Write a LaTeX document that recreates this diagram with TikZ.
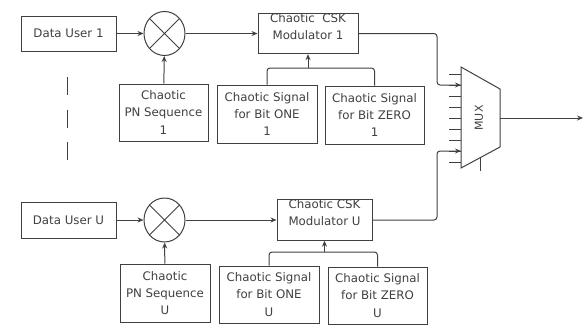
\documentclass[tikz,border=0pt]{standalone}
\usepackage{fontspec}
\setmainfont{DejaVu Sans}
\usetikzlibrary{arrows.meta,shapes.geometric,calc}
\begin{document}
\begin{tikzpicture}[x=1pt,y=-1pt,color=black!75,line width=1pt,
  box/.style={draw,align=center,inner sep=0pt,font=\fontsize{11.8}{17.2}\selectfont},
  mixer/.style={draw,ellipse,inner sep=0pt,minimum width=41pt,minimum height=44pt},
  arr/.style={-{Stealth[length=6pt,width=5pt]}},
  link/.style={rounded corners=3pt}]
\useasboundingbox (0,0) rectangle (583,327);
% ---------- user 1 ----------
\node[box,minimum width=95pt,minimum height=35pt] (du1) at (68.5,33.5) {Data User 1};
\node[mixer] (mix1) at (164.5,33.5) {};
\draw (mix1.45) -- (mix1.225) (mix1.135) -- (mix1.315);
\node[box,minimum width=89pt,minimum height=57pt] (pn1) at (163.5,112.5) {Chaotic\\PN Sequence\\1};
\node[box,minimum width=100pt,minimum height=35pt] (mod1) at (308,33.5) {Chaotic\ \ CSK\\Modulator 1\\[-3pt]};
\node[box,minimum width=100pt,minimum height=58pt] (one1) at (267,114) {Chaotic Signal\\for Bit ONE\\1};
\node[box,minimum width=99pt,minimum height=58pt] (zero1) at (374.5,115) {Chaotic Signal\\for Bit ZERO\\1};
\coordinate (j1) at (308,68);
% ---------- user U ----------
\node[box,minimum width=95pt,minimum height=36pt] (duU) at (68.5,220) {Data User U};
\node[mixer] (mixU) at (164.5,220) {};
\draw (mixU.45) -- (mixU.225) (mixU.135) -- (mixU.315);
\node[box,minimum width=90pt,minimum height=58pt] (pnU) at (165,293) {Chaotic\\PN Sequence\\U};
\node[box,minimum width=95pt,minimum height=36pt] (modU) at (324.5,220) {Chaotic CSK\\Modulator U\\[-3pt]};
\node[box,minimum width=100pt,minimum height=57pt] (oneU) at (269,294.5) {Chaotic Signal\\for Bit ONE\\U};
\node[box,minimum width=99pt,minimum height=57pt] (zeroU) at (377.5,295.5) {Chaotic Signal\\for Bit ZERO\\U};
\coordinate (jU) at (324.5,252);
% ---------- MUX ----------
\draw (461,67) -- (500,89) -- (500,147) -- (461,168) -- cycle;
\node[font=\fontsize{11}{13}\selectfont,rotate=90] (mux) at (479,118) {MUX};
\foreach \yy in {74,85,...,162} \draw (449,\yy) -- (461,\yy);
\draw (480,158) -- (480,171);
\coordinate (muxin1) at (461,85);
\coordinate (muxinU) at (461,151);
\coordinate (bend1) at (437,85);
\coordinate (bendU) at (437,151);
\coordinate (muxout) at (500,118);
\coordinate (outend) at (583,118);
% ---------- dashed separator ----------
\draw[dash pattern=on 18pt off 14.5pt] (67,77) -- (67,161);
% ---------- connectors ----------
\draw[arr] (du1) -- (mix1);
\draw[arr] (pn1) -- (mix1);
\draw[arr] (mix1) -- (mod1);
\draw[link] (one1.north) |- (j1) -| (zero1.north);
\draw[arr] (j1) -- (mod1.south);
\draw[arr,link] (mod1.east) -| (bend1) -- (muxin1);
\draw[arr] (duU) -- (mixU);
\draw[arr] (pnU) -- (mixU);
\draw[arr] (mixU) -- (modU);
\draw[link] (oneU.north) |- (jU) -| (zeroU.north);
\draw[arr] (jU) -- (modU.south);
\draw[arr,link] (modU.east) -| (bendU) -- (muxinU);
\draw[arr] (muxout) -- (outend);
\end{tikzpicture}
\end{document}
